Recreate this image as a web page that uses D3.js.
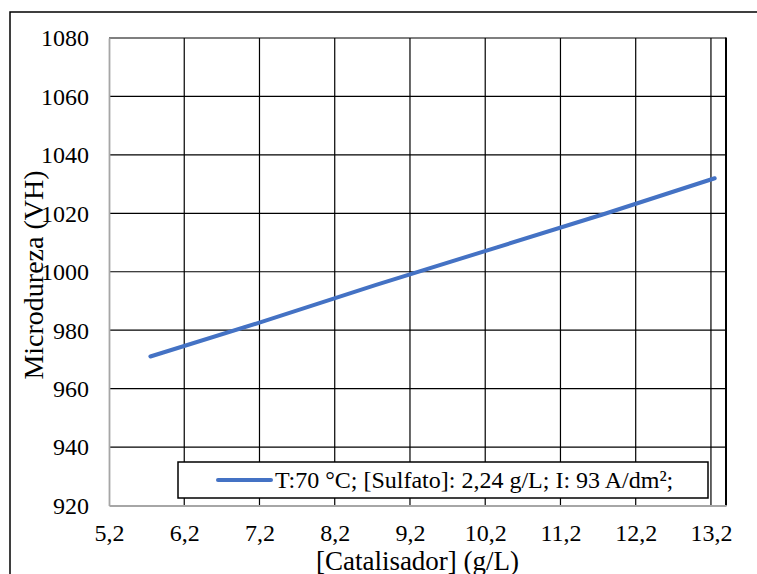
<!DOCTYPE html>
<html>
<head>
<meta charset="utf-8">
<script src="https://cdn.jsdelivr.net/npm/d3@7"></script>
<style>
  body { margin: 0; background: #fff; }
</style>
</head>
<body>
<div id="chart"></div>
<script>
// values
var catalisador = [5.75, 7.25, 8.75, 10.25, 11.75, 13.25];
var microdureza = [971, 983, 995.5, 1007.5, 1019.5, 1032];
var xTicks = [5.2, 6.2, 7.2, 8.2, 9.2, 10.2, 11.2, 12.2, 13.2];
var yTicks = [920, 940, 960, 980, 1000, 1020, 1040, 1060, 1080];
var serieLabel = "T:70 °C; [Sulfato]: 2,24 g/L; I: 93 A/dm²;";
var xTitle = "[Catalisador] (g/L)";
var yTitle = "Microdureza (VH)";

var W = 757, H = 574;
var plot = {left: 109, right: 726, top: 38, bottom: 505.5};
var serif = "'Liberation Serif', 'Times New Roman', Times, serif";

var svg = d3.select("#chart").append("svg")
    .attr("width", W)
    .attr("height", H);

// outer chart border (runs off the right and bottom)
svg.append("rect")
    .attr("x", 10).attr("y", 12)
    .attr("width", 800).attr("height", 600)
    .attr("fill", "none")
    .attr("stroke", "#000")
    .attr("stroke-width", 1.5);

var x = d3.scaleLinear().domain([5.2, 13.4]).range([plot.left, plot.right]);
var y = d3.scaleLinear().domain([920, 1080]).range([plot.bottom, plot.top]);

var fmt = function (d) { return String(d).replace(".", ","); };

// grid
svg.append("g").selectAll("line.v")
    .data(xTicks.slice(1))
    .enter().append("line")
    .attr("x1", function (d) { return x(d); })
    .attr("x2", function (d) { return x(d); })
    .attr("y1", plot.top).attr("y2", plot.bottom)
    .attr("stroke", "#000").attr("stroke-width", 1.2);

svg.append("g").selectAll("line.h")
    .data(yTicks.slice(1))
    .enter().append("line")
    .attr("x1", plot.left).attr("x2", plot.right)
    .attr("y1", function (d) { return y(d); })
    .attr("y2", function (d) { return y(d); })
    .attr("stroke", "#000").attr("stroke-width", 1.2);

// right border of plot area
svg.append("line")
    .attr("x1", plot.right).attr("x2", plot.right)
    .attr("y1", plot.top - 0.6).attr("y2", plot.bottom)
    .attr("stroke", "#000").attr("stroke-width", 2);

// axes
var xAxis = svg.append("g")
    .attr("transform", "translate(0," + plot.bottom + ")")
    .call(d3.axisBottom(x).tickValues(xTicks).tickFormat(fmt).tickSize(0).tickPadding(0));
xAxis.select(".domain").attr("stroke", "#a6a6a6").attr("stroke-width", 1.8);
xAxis.selectAll("text")
    .attr("y", 35.5).attr("dy", null)
    .style("font-family", serif)
    .style("font-size", "24px");

var yAxis = svg.append("g")
    .attr("transform", "translate(" + plot.left + ",0)")
    .call(d3.axisLeft(y).tickValues(yTicks).tickFormat(d3.format("d")).tickSize(0).tickPadding(20));
yAxis.select(".domain").attr("stroke", "#a6a6a6").attr("stroke-width", 1.8);
yAxis.selectAll("text")
    .attr("dy", "0.33em")
    .style("font-family", serif)
    .style("font-size", "24px");

// series
var pts = catalisador.map(function (c, i) { return [c, microdureza[i]]; });
svg.append("path")
    .datum(pts)
    .attr("fill", "none")
    .attr("stroke", "#4472c4")
    .attr("stroke-width", 4)
    .attr("stroke-linecap", "round")
    .attr("d", d3.line()
        .x(function (d) { return x(d[0]); })
        .y(function (d) { return y(d[1]); }));

// legend
var legend = svg.append("g");
legend.append("rect")
    .attr("x", 178).attr("y", 462)
    .attr("width", 530).attr("height", 36)
    .attr("fill", "#fff")
    .attr("stroke", "#000").attr("stroke-width", 1.5);
legend.append("line")
    .attr("x1", 218).attr("x2", 271)
    .attr("y1", 480).attr("y2", 480)
    .attr("stroke", "#4472c4").attr("stroke-width", 4)
    .attr("stroke-linecap", "round");
legend.append("text")
    .attr("x", 275).attr("y", 488)
    .style("font-family", serif)
    .style("font-size", "24px")
    .text(serieLabel);

// titles
svg.append("text")
    .attr("x", (plot.left + plot.right) / 2)
    .attr("y", 569.5)
    .attr("text-anchor", "middle")
    .style("font-family", serif)
    .style("font-size", "27px")
    .text(xTitle);

svg.append("text")
    .attr("transform", "translate(43,275) rotate(-90)")
    .attr("text-anchor", "middle")
    .style("font-family", serif)
    .style("font-size", "28px")
    .text(yTitle);
</script>
</body>
</html>
